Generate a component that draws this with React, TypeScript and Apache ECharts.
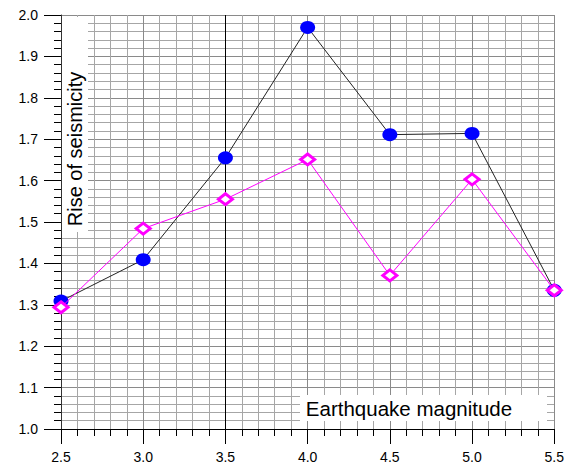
import React, { useEffect, useRef } from "react";
import * as echarts from "echarts";

const magnitudes = [2.5, 3.0, 3.5, 4.0, 4.5, 5.0, 5.5];
const seriesBlue = [1.309, 1.409, 1.655, 1.97, 1.711, 1.714, 1.335];
const seriesMagenta = [1.294, 1.484, 1.555, 1.651, 1.371, 1.603, 1.335];
const xTitle = "Earthquake magnitude";
const yTitle = "Rise of seismicity";
const markedMagnitude = 3.5;

export default function App() {
  const ref = useRef<HTMLDivElement>(null);
  useEffect(() => {
    document.body.style.margin = "0";
    const chart = echarts.init(ref.current!, null, { renderer: "svg" });
    const font = "'Liberation Sans', Arial, sans-serif";
    chart.setOption({
      animation: false,
      backgroundColor: "#ffffff",
      grid: { left: 61, right: 10, top: 15, bottom: 38, containLabel: false },
      xAxis: {
        type: "value",
        min: 2.5,
        max: 5.5,
        interval: 0.5,
        axisLine: { show: true, lineStyle: { color: "#000", width: 1 } },
        axisTick: { show: true, length: 15, lineStyle: { color: "#000" } },
        minorTick: { show: true, splitNumber: 5, length: 7, lineStyle: { color: "#000" } },
        splitLine: { show: true, lineStyle: { color: "#8a8a8a", width: 1 } },
        minorSplitLine: { show: true, lineStyle: { color: "#a6a6a6", width: 1 } },
        axisLabel: {
          margin: 21,
          fontSize: 14,
          color: "#000",
          fontFamily: font,
          formatter: (v: number) => v.toFixed(1),
        },
      },
      yAxis: {
        type: "value",
        min: 1.0,
        max: 2.0,
        interval: 0.1,
        axisLine: { show: true, lineStyle: { color: "#333", width: 1 } },
        axisTick: { show: true, length: 17, lineStyle: { color: "#000" } },
        minorTick: { show: true, splitNumber: 5, length: 7, lineStyle: { color: "#000" } },
        splitLine: { show: true, lineStyle: { color: "#8a8a8a", width: 1 } },
        minorSplitLine: { show: true, lineStyle: { color: "#a6a6a6", width: 1 } },
        axisLabel: {
          margin: 23,
          fontSize: 14,
          color: "#000",
          fontFamily: font,
          formatter: (v: number) => v.toFixed(1),
        },
      },
      graphic: [
        {
          type: "rect",
          z: 5,
          shape: { x: 62, y: 17, width: 26, height: 215 },
          style: { fill: "#fff" },
        },
        {
          type: "text",
          z: 6,
          x: 75,
          y: 149,
          rotation: Math.PI / 2,
          style: {
            text: yTitle,
            fontSize: 20,
            fontFamily: font,
            fill: "#000",
            align: "center",
            verticalAlign: "middle",
          },
        },
        {
          type: "rect",
          z: 5,
          shape: { x: 300, y: 395, width: 247, height: 26 },
          style: { fill: "#fff" },
        },
        {
          type: "text",
          z: 6,
          x: 409,
          y: 408,
          style: {
            text: xTitle,
            fontSize: 20.5,
            fontFamily: font,
            fill: "#000",
            align: "center",
            verticalAlign: "middle",
          },
        },
      ],
      series: [
        {
          type: "line",
          z: 10,
          data: magnitudes.map((m, i) => [m, seriesBlue[i]]),
          symbol: "circle",
          symbolSize: [15, 13],
          itemStyle: { color: "#0000ff" },
          lineStyle: { color: "#222", width: 1 },
          markLine: {
            silent: true,
            symbol: "none",
            label: { show: false },
            lineStyle: { color: "#000", width: 1, type: "solid" },
            data: [{ xAxis: markedMagnitude }],
          },
        },
        {
          type: "line",
          z: 11,
          data: magnitudes.map((m, i) => [m, seriesMagenta[i]]),
          symbol: "diamond",
          symbolSize: [14, 11],
          itemStyle: { color: "#fff", borderColor: "#ff00ff", borderWidth: 3 },
          lineStyle: { color: "#ff00ff", width: 1 },
        },
      ],
    });
    return () => chart.dispose();
  }, []);
  return <div ref={ref} style={{ width: 567, height: 467 }} />;
}
